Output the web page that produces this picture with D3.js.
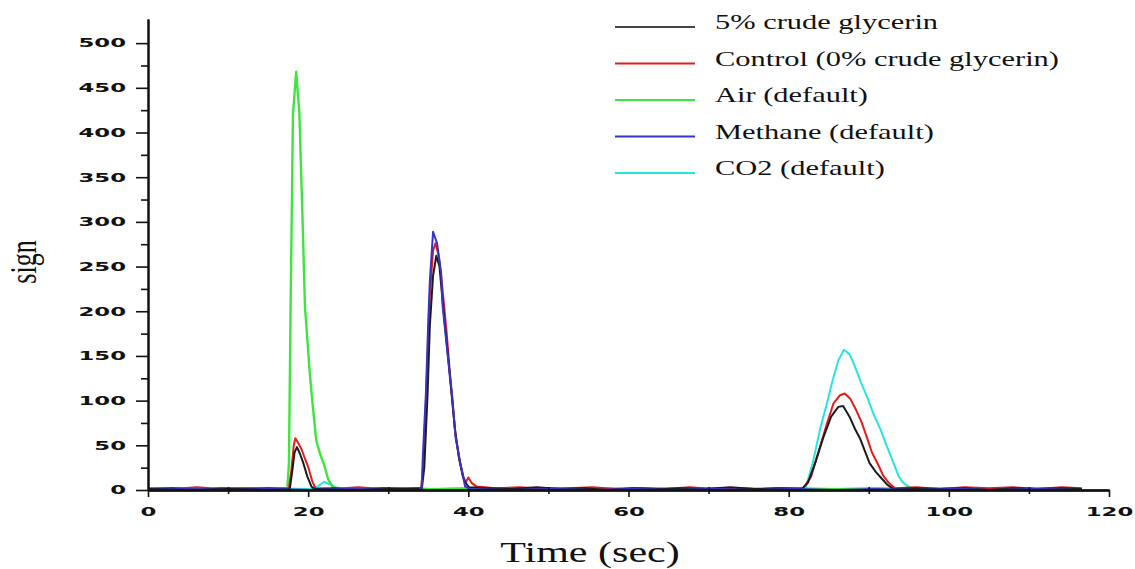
<!DOCTYPE html>
<html>
<head>
<meta charset="utf-8">
<script src="https://cdn.jsdelivr.net/npm/d3@7"></script>
<style>
  body { margin: 0; background: #fff; }
  svg { display: block; }
</style>
</head>
<body>
<svg id="chart" width="1135" height="569"></svg>
<script>
// [time (sec), signal]
const crude5 = [[0,1],[3,2],[6.1,0],[9.1,2],[12.1,1],[15.1,2],[17.7,1],[18.0,20],[18.3,42],[18.6,48],[19.0,40],[19.4,30],[19.9,15],
  [20.4,4],[20.8,1],[23.2,2],[26.2,0],[29.3,2],[32.3,1],[34.2,2],[34.5,25],[34.9,105],[35.2,185],[35.6,240],[36.0,262],[36.4,250],
  [36.8,210],[37.4,155],[37.9,108],[38.4,62],[38.9,33],[39.5,10],[40.1,3],[42.4,2],[45.4,1],[48.5,3],[51.5,1],[54.5,2],[57.5,0],
  [60.6,2],[63.6,1],[66.6,2],[69.6,1],[72.7,3],[75.7,1],[78.7,2],[81.6,1],[82.4,8],[83.3,30],[84.3,58],[85.3,82],[86.2,93],
  [86.8,94],[87.6,82],[88.3,68],[88.9,58],[89.5,44],[90.1,30],[90.9,20],[91.5,14],[92.3,6],[93.1,1],[95.9,2],[98.9,1],[102,2],
  [105,0],[108,2],[111,1],[114.1,2],[116.6,1]];
const control = [[0,2],[3,1],[6.1,3],[9.1,1],[12.1,2],[15.1,1],[17.6,2],[17.9,22],[18.2,50],[18.4,58],[18.8,52],[19.2,45],[19.6,35],
  [20.0,26],[20.5,10],[20.9,2],[23.2,1],[26.2,3],[29.3,1],[32.3,2],[34.1,2],[34.4,30],[34.8,120],[35.2,220],[35.6,268],[35.9,276],
  [36.3,262],[36.7,232],[37.3,175],[37.8,120],[38.3,70],[38.8,38],[39.3,15],[39.7,9],[40.0,14],[40.4,8],[41.0,4],[43.4,2],[46.4,3],
  [49.5,1],[52.5,2],[55.5,3],[58.5,1],[61.6,2],[64.6,1],[67.6,3],[70.7,1],[73.7,2],[76.7,1],[79.7,2],[81.8,2],[82.8,15],[83.8,45],
  [84.8,75],[85.6,97],[86.4,106],[87.0,108],[87.7,102],[88.4,90],[89.1,76],[89.8,58],[90.4,42],[91.2,28],[91.8,16],[92.5,8],
  [93.3,2],[95.9,3],[98.9,1],[102,3],[105,2],[108,3],[111,1],[114.1,3],[116.6,2]];
const air = [[0,1],[4,2],[8.1,1],[12.1,2],[16.2,1],[17.4,2],[17.6,30],[17.8,200],[18.1,420],[18.5,468],[18.9,422],[19.3,302],
  [19.6,205],[20.2,131],[20.5,101],[21.0,56],[21.5,40],[22.0,28],[22.5,12],[23.1,3],[25.2,1],[30.3,2],[35.3,1],[40.4,2],[45.4,1],
  [50.5,2],[55.5,1],[60.6,2],[65.6,1],[70.7,2],[75.7,1],[80.8,2],[85.8,1],[90.8,2],[95.9,1],[100.9,2],[106,1],[111,2],[116.6,1]];
const methane = [[0,0],[5,1],[10.1,0],[15.1,1],[20.2,0],[25.2,1],[30.3,0],[33.9,0],[34.2,4],[34.3,34],[34.7,108],[35.0,190],
  [35.2,235],[35.6,289],[36.1,276],[36.6,243],[36.8,205],[37.4,153],[38.0,104],[38.4,59],[39.0,30],[39.6,4],[40.2,1],[45.4,0],
  [50.5,1],[55.5,0],[60.6,1],[65.6,0],[70.7,1],[75.7,0],[80.8,1],[85.8,0],[90.8,1],[95.9,0],[100.9,1],[106,0],[111,1],[116.6,0]];
const co2 = [[0,1],[5,2],[10.1,1],[15.1,2],[20.2,1],[21.2,4],[22.0,9],[22.8,6],[23.6,2],[26.2,1],[31.3,2],[36.3,1],[41.4,2],
  [46.4,1],[51.5,2],[56.5,1],[61.6,2],[66.6,1],[71.7,2],[76.7,1],[82.1,2],[83.0,30],[83.9,67],[84.8,98],[85.5,123],[86.2,145],
  [86.9,157],[87.6,152],[88.2,140],[89.0,121],[89.8,104],[90.6,85],[91.5,67],[92.3,48],[93.1,30],[93.7,16],[94.3,8],[95.1,3],
  [96.0,1],[100.9,2],[106,1],[111,2],[116.6,1]];

const seriesNames = ['5% crude glycerin', 'Control (0% crude glycerin)', 'Air (default)', 'Methane (default)', 'CO2 (default)'];
const xTicks = [0, 20, 40, 60, 80, 100, 120];
const xMinor = [10, 30, 50, 70, 90, 110];
const yTicks = [0, 50, 100, 150, 200, 250, 300, 350, 400, 450, 500];
const yMinor = [25, 75, 125, 175, 225, 275, 325, 375, 425, 475];

const colors = ['#1c1c1c', '#e41c1c', '#3fe43f', '#3434c8', '#26e4e4'];
const series = [crude5, control, air, methane, co2];

const svg = d3.select('#chart');
svg.append('rect').attr('width', 1135).attr('height', 569).attr('fill', '#fff');

const x = d3.scaleLinear().domain([0, 120]).range([148, 1109]);
const y = d3.scaleLinear().domain([0, 527]).range([490, 19]);

const line = d3.line().x(d => x(d[0])).y(d => y(d[1]));

// draw order: cyan, green, red, black, blue on top
[4, 2, 1, 0, 3].forEach(i => {
  svg.append('path')
    .attr('d', line(series[i]))
    .attr('fill', 'none')
    .attr('stroke', colors[i])
    .attr('stroke-width', i === 2 ? 2.4 : 2)
    .attr('stroke-linejoin', 'round');
});

// axes
function styleAxis(g) {
  g.select('.domain').attr('stroke', '#111').attr('stroke-width', 2);
  g.selectAll('.tick line').attr('stroke', '#111').attr('stroke-width', 1.6);
  g.selectAll('.tick text')
    .attr('fill', '#111')
    .style('font-family', '"DejaVu Sans", sans-serif')
    .style('font-weight', 'bold')
    .style('font-size', '12px');
}

const xAxis = svg.append('g')
  .attr('transform', 'translate(0,490)')
  .call(d3.axisBottom(x).tickValues(xTicks).tickSize(7).tickSizeOuter(0).tickPadding(10).tickFormat(d3.format('d')))
  .call(styleAxis);
xAxis.selectAll('.tick text').attr('transform', 'scale(1.9,1)');

svg.append('g')
  .attr('transform', 'translate(0,490)')
  .call(d3.axisBottom(x).tickValues(xMinor).tickSize(4).tickSizeOuter(0).tickFormat(''))
  .call(styleAxis);
svg.append('g')
  .attr('transform', 'translate(0,490)')
  .call(d3.axisBottom(x).tickValues(xMinor).tickSize(-3).tickSizeOuter(0).tickFormat(''))
  .call(styleAxis);

const yAxis = svg.append('g')
  .attr('transform', 'translate(148,0)')
  .call(d3.axisLeft(y).tickValues(yTicks).tickSize(12).tickSizeOuter(0).tickFormat(d3.format('d')))
  .call(styleAxis);
yAxis.selectAll('.tick text').attr('x', 0).attr('transform', 'translate(-22,0) scale(1.9,1)');

svg.append('g')
  .attr('transform', 'translate(148,0)')
  .call(d3.axisLeft(y).tickValues(yMinor).tickSize(7).tickSizeOuter(0).tickFormat(''))
  .call(styleAxis);

// axis titles
svg.append('text')
  .attr('transform', 'translate(590,562) scale(1.45,1)')
  .attr('text-anchor', 'middle')
  .style('font-family', '"Liberation Serif", "Times New Roman", serif')
  .style('font-size', '29px')
  .attr('fill', '#111')
  .text('Time (sec)');

svg.append('text')
  .attr('transform', 'translate(36,262) scale(1.45,1) rotate(-90)')
  .attr('text-anchor', 'middle')
  .style('font-family', '"Liberation Serif", "Times New Roman", serif')
  .style('font-size', '26px')
  .attr('fill', '#111')
  .text('sign');

// legend
const legend = svg.append('g');
seriesNames.forEach((name, i) => {
  const ly = 27 + i * 36.5;
  legend.append('line')
    .attr('x1', 615).attr('x2', 695)
    .attr('y1', ly).attr('y2', ly)
    .attr('stroke', i === 0 ? '#444' : colors[i])
    .attr('stroke-width', 2);
  legend.append('text')
    .attr('transform', `translate(715,${29 + i * 36.6}) scale(1.45,1)`)
    .style('font-family', '"Liberation Serif", "Times New Roman", serif')
    .style('font-size', '21px')
    .attr('fill', '#111')
    .text(name);
});
</script>
</body>
</html>
